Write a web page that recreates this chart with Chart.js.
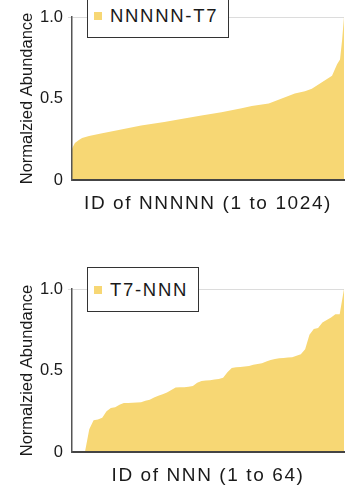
<!DOCTYPE html>
<html>
<head>
<meta charset="utf-8">
<script src="https://cdn.jsdelivr.net/npm/chart.js@4.4.1/dist/chart.umd.min.js"></script>
<style>
  html, body { margin: 0; padding: 0; background: #fff; }
  body { width: 345px; height: 492px; position: relative; overflow: hidden; font-family: 'Liberation Sans', Arial, sans-serif; }
  .panel { position: absolute; left: 0; width: 345px; height: 230px; }
  .legend { position: absolute; left: 87px; height: 45px; box-sizing: border-box; border: 1.5px solid #333; background: #fff;
            display: flex; align-items: center; padding-left: 6px; font-size: 18.5px; letter-spacing: 1.7px; color: #1a1a1a; }
  .legend i { display: inline-block; width: 8px; height: 8px; background: #F7D774; margin-right: 8px; }
</style>
</head>
<body>
<div class="panel" style="top:0"><canvas id="chartTop"></canvas></div>
<div class="panel" style="top:272px"><canvas id="chartBottom"></canvas></div>
<div class="legend" style="top:-7px;width:142px"><i></i>NNNNN-T7</div>
<div class="legend" style="top:267px;width:112px"><i></i>T7-NNN</div>
<script>
// NNNNN-T7: sorted abundance at these IDs
const nnnnnIds = [1, 5, 12, 27, 39, 65, 110, 186, 261, 348, 412, 488, 563, 639, 677, 741, 790, 839, 877, 903, 941, 979, 998, 1009, 1017, 1024];
const nnnnnValues = [0.19, 0.205, 0.227, 0.245, 0.258, 0.27, 0.285, 0.31, 0.335, 0.356, 0.375, 0.395, 0.415, 0.44, 0.454, 0.47, 0.50, 0.53, 0.545, 0.56, 0.60, 0.64, 0.71, 0.74, 0.86, 1.0];

// T7-NNN: all 64 IDs, sorted
const nnnValues = [
  0, 0, 0, 0, 0.14, 0.195, 0.20, 0.21, 0.25, 0.27,
  0.275, 0.29, 0.30, 0.30, 0.302, 0.303, 0.305, 0.315, 0.32, 0.335,
  0.345, 0.355, 0.365, 0.38, 0.395, 0.397, 0.398, 0.40, 0.405, 0.425,
  0.435, 0.438, 0.44, 0.445, 0.448, 0.455, 0.49, 0.515, 0.52, 0.522,
  0.525, 0.527, 0.535, 0.54, 0.545, 0.555, 0.565, 0.57, 0.575, 0.577,
  0.58, 0.582, 0.59, 0.60, 0.63, 0.72, 0.755, 0.76, 0.795, 0.81,
  0.825, 0.845, 0.845, 1.0
];
const nnnIds = nnnValues.map((v, i) => i + 1);

const yTicks = [0, 0.5, 1];
const yTickLabels = ['0', '0.5', '1.0'];

const FILL = '#F7D774';
const FONT = "'Liberation Sans', Arial, sans-serif";

// Chart.js has no letter-spacing option, so wrap the x title draw
const spacedXTitle = {
    id: 'spacedXTitle',
    afterLayout(chart) {
        const scale = chart.scales.x;
        if (scale._spaced) return;
        const drawTitle = scale.drawTitle.bind(scale);
        scale.drawTitle = () => {
            chart.ctx.save();
            chart.ctx.letterSpacing = '1.6px';
            drawTitle();
            chart.ctx.restore();
        };
        scale._spaced = true;
    }
};

function makeChart(id, ids, values, xTitle) {
    const ctx = document.getElementById(id).getContext('2d');
    return new Chart(ctx, {
        type: 'line',
        data: {
            datasets: [{
                data: ids.map((x, i) => ({ x: x, y: values[i] })),
                backgroundColor: FILL,
                borderWidth: 0,
                pointRadius: 0,
                fill: 'origin',
                tension: 0
            }]
        },
        options: {
            responsive: true,
            maintainAspectRatio: false,
            animation: false,
            events: [],
            layout: { padding: { top: 17, right: 1, left: 0, bottom: 0 } },
            plugins: {
                legend: { display: false },
                tooltip: { enabled: false }
            },
            scales: {
                x: {
                    type: 'linear',
                    min: ids[0],
                    max: ids[ids.length - 1],
                    grid: { display: false },
                    ticks: { display: false },
                    border: { display: true, color: '#444', width: 2, z: 1 },
                    title: {
                        display: true,
                        text: xTitle,
                        color: '#1a1a1a',
                        font: { family: FONT, size: 19 },
                        padding: { top: 0, bottom: 15 }
                    },
                    afterFit: (s) => { s.height = 50; }
                },
                y: {
                    min: 0,
                    max: 1,
                    afterBuildTicks: (s) => { s.ticks = yTicks.map(v => ({ value: v })); },
                    ticks: {
                        color: '#1a1a1a',
                        padding: 5,
                        font: { family: FONT, size: 16.5 },
                        callback: (v) => yTickLabels[yTicks.indexOf(v)]
                    },
                    grid: {
                        color: (c) => c.tick && c.tick.value === 1 ? '#dcdcdc' : 'transparent',
                        tickColor: (c) => c.tick && c.tick.value === 1 ? '#dcdcdc' : 'transparent',
                        tickLength: 4
                    },
                    border: { display: true, color: '#555', width: 1.5, z: 1 },
                    title: {
                        display: true,
                        text: 'Normalzied Abundance',
                        color: '#1a1a1a',
                        font: { family: FONT, size: 16.5 },
                        padding: { top: 18, bottom: 0 }
                    },
                    afterFit: (s) => { s.width = 72; }
                }
            }
        },
        plugins: [spacedXTitle]
    });
}

makeChart('chartTop', nnnnnIds, nnnnnValues, 'ID of NNNNN (1 to 1024)');
makeChart('chartBottom', nnnIds, nnnValues, 'ID of NNN (1 to 64)');
</script>
</body>
</html>
